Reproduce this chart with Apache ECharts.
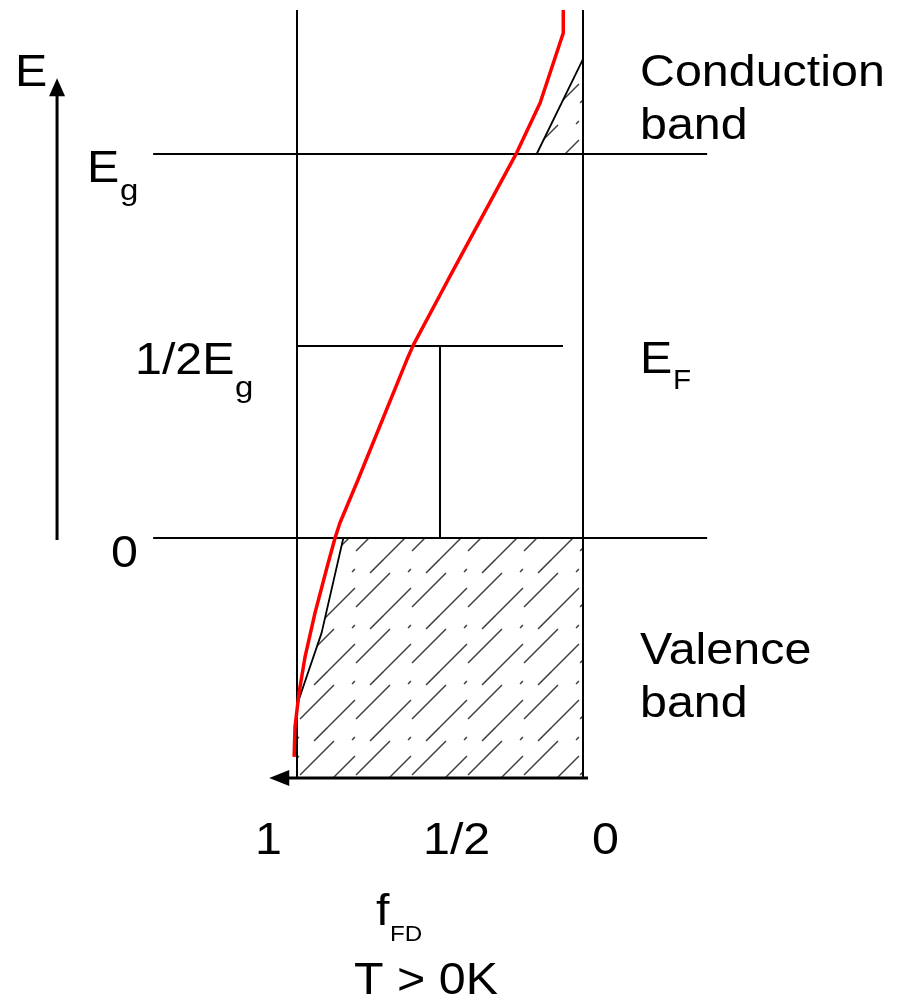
<!DOCTYPE html>
<html>
<head>
<meta charset="utf-8">
<script src="https://cdn.jsdelivr.net/npm/echarts@6/dist/echarts.min.js"></script>
<style>
html, body { margin: 0; padding: 0; background: #fff; }
#chart { width: 904px; height: 1001px; }
</style>
</head>
<body>
<div id="chart"></div>
<script>
// x = f_FD (1 on the left, 0 on the right), y = energy in units of Eg
const fTicks = [1, 0.5, 0];
const fTickLabels = ['1', '1/2', '0'];
const energyLevels = [0, 0.5, 1];

// Fermi-Dirac curve at T > 0K
const fdCurve = [
    [0.069, 1.375], [0.069, 1.315], [0.150, 1.133], [0.232, 1.003],
    [0.472, 0.672], [0.593, 0.503], [0.616, 0.464], [0.787, 0.151],
    [0.850, 0.039], [0.867, 0.000], [0.895, -0.076], [0.937, -0.195],
    [0.972, -0.310], [0.993, -0.404], [1.007, -0.492], [1.010, -0.570]
];

// filled-state edges (black lines)
const valenceEdge = [[0.838, 0], [0.914, -0.247], [1, -0.435]];
const conductionEdge = [[0.162, 1.0], [0, 1.247]];

// hatched regions
const valenceBand = [[0.838, 0], [0, 0], [0, -0.625], [1, -0.625], [1, -0.435], [0.914, -0.247]];
const conductionBand = [[0.162, 1.0], [0, 1.0], [0, 1.247]];

// frame of the diagram
const boxTop = 1.375;
const boxBottom = -0.625;
const levelFrom = 1.503;
const levelTo = -0.434;
const halfLevelTo = 0.07;
const energyAxisF = 1.839;

function hatchPattern() {
    const c = document.createElement('canvas');
    c.width = 56;
    c.height = 56;
    const ctx = c.getContext('2d');
    ctx.strokeStyle = '#3c3c3c';
    ctx.lineWidth = 1.5;
    const segs = [[20, 47, 54, 13], [-8, 55, 19, 28], [34, 13, 48, -1], [16, 12, 19, 9]];
    for (const [x1, y1, x2, y2] of segs) {
        for (const dx of [-56, 0, 56]) {
            for (const dy of [-56, 0, 56]) {
                ctx.beginPath();
                ctx.moveTo(x1 + dx, y1 + dy);
                ctx.lineTo(x2 + dx, y2 + dy);
                ctx.stroke();
            }
        }
    }
    return { image: c, repeat: 'repeat' };
}

const pattern = hatchPattern();

function hatch(poly) {
    return {
        type: 'custom',
        coordinateSystem: 'cartesian2d',
        data: poly,
        encode: { x: 0, y: 1 },
        silent: true,
        z: 1,
        renderItem: (params, api) => {
            if (params.dataIndex !== 0) return;
            return {
                type: 'polygon',
                shape: { points: poly.map(p => api.coord(p)) },
                style: { fill: pattern, stroke: null }
            };
        }
    };
}

function seg(data, width, color, z) {
    return {
        type: 'line',
        data: data,
        symbol: 'none',
        showSymbol: true,
        lineStyle: { width: width, color: color || '#000' },
        itemStyle: { color: color || '#000' },
        silent: true,
        z: z || 2
    };
}

const series = [
    hatch(valenceBand),
    hatch(conductionBand),
    seg([[1, boxTop], [1, boxBottom]], 2),
    seg([[0, boxTop], [0, boxBottom]], 2),
    seg([[levelFrom, energyLevels[0]], [levelTo, energyLevels[0]]], 2),
    seg([[levelFrom, energyLevels[2]], [levelTo, energyLevels[2]]], 2),
    seg([[fTicks[0], energyLevels[1]], [halfLevelTo, energyLevels[1]]], 2),
    seg([[fTicks[1], energyLevels[1]], [fTicks[1], energyLevels[0]]], 2),
    seg(valenceEdge, 1.8),
    seg(conductionEdge, 1.8),
    // f axis arrow (pointing left)
    seg([[-0.0175, boxBottom], { value: [1.062, boxBottom], symbol: 'triangle', symbolRotate: 90, symbolSize: [16, 20] }], 3),
    // energy axis arrow
    seg([[energyAxisF, -0.005], { value: [energyAxisF, 1.174], symbol: 'triangle', symbolSize: [16, 18] }], 3),
    seg(fdCurve, 3.5, '#ff0000', 3)
];

const FONT = '"Liberation Sans", Arial, sans-serif';
function txt(str, x, baseline, fs) {
    return {
        type: 'text',
        x: x,
        y: baseline - 0.3465 * fs,
        scaleX: 1.1,
        silent: true,
        style: {
            text: str,
            font: fs + 'px ' + FONT,
            fill: '#000',
            align: 'left',
            textAlign: 'left',
            verticalAlign: 'middle',
            textVerticalAlign: 'middle'
        }
    };
}

const labels = [
    txt('E', 15, 89, 44),
    txt('E', 87, 185, 44), txt('g', 120, 202, 30),
    txt('1/2E', 135, 377, 44), txt('g', 235, 399, 30),
    txt('0', 111, 570, 44),
    txt('Conduction', 640, 89, 44), txt('band', 640, 142, 44),
    txt('E', 640, 376, 44), txt('F', 673, 391, 27),
    txt('Valence', 640, 667, 44), txt('band', 640, 720, 44),
    txt(fTickLabels[0], 255, 857, 44),
    txt(fTickLabels[1], 423, 857, 44),
    txt(fTickLabels[2], 592, 857, 44),
    txt('f', 376, 928, 44), txt('FD', 390, 943, 22),
    txt('T > 0K', 354, 997, 44)
];

const chart = echarts.init(document.getElementById('chart'), null, { renderer: 'canvas' });
chart.setOption({
    animation: false,
    backgroundColor: '#fff',
    grid: { left: 11, width: 858, top: 0.4, height: 998.4 },
    xAxis: { type: 'value', inverse: true, min: -1, max: 2, show: false },
    yAxis: { type: 'value', min: -1.2, max: 1.4, show: false },
    series: series,
    graphic: labels
});
</script>
</body>
</html>
